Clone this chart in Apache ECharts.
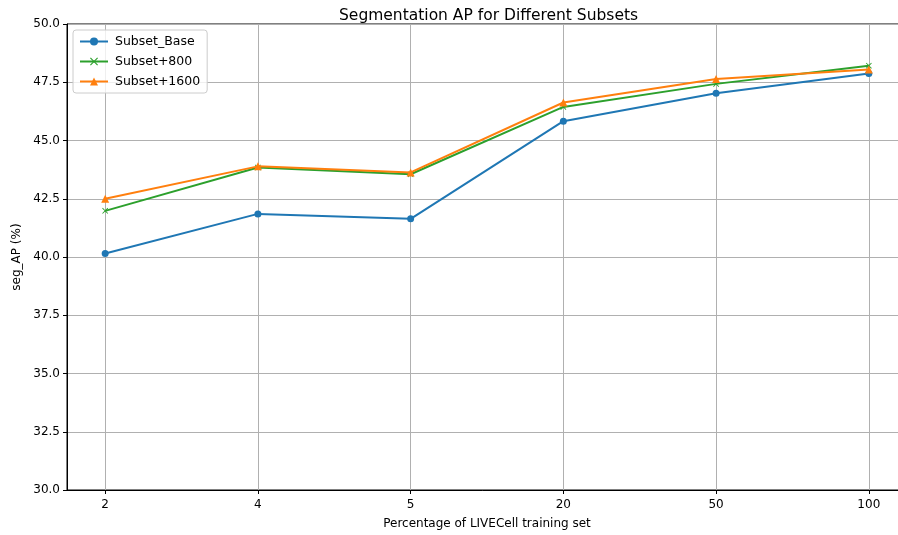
<!DOCTYPE html>
<html>
<head>
<meta charset="utf-8">
<script src="https://cdn.jsdelivr.net/npm/echarts@6/dist/echarts.min.js"></script>
<style>
  html, body { margin: 0; padding: 0; background: #fff; }
  #main { width: 898px; height: 535px; }
</style>
</head>
<body>
<div id="main"></div>
<script>
// x positions are category indices, labels are training-set percentages
var categories = ['2', '4', '5', '20', '50', '100'];
var subsetBase = [40.15, 41.85, 41.64, 45.83, 47.03, 47.88];
var subset800 = [41.98, 43.84, 43.55, 46.44, 47.43, 48.21];
var subset1600 = [42.50, 43.89, 43.63, 46.63, 47.64, 48.05];

var xMark = 'path://M0,1L1,0L5,4L9,0L10,1L6,5L10,9L9,10L5,6L1,10L0,9L4,5Z';
var font = 'DejaVu Sans';

function toPoints(vals) {
    return vals.map(function (v, i) { return [i, v]; });
}

var chart = echarts.init(document.getElementById('main'));

var option = {
    animation: false,
    backgroundColor: '#fff',
    title: {
        text: 'Segmentation AP for Different Subsets',
        left: 334,
        top: 3,
        textStyle: { fontFamily: font, fontSize: 15.5, fontWeight: 'normal', color: '#000' }
    },
    legend: {
        orient: 'vertical',
        left: 73,
        top: 30,
        padding: [5, 7, 5, 6],
        itemGap: 7,
        itemWidth: 28,
        itemHeight: 10,
        backgroundColor: 'rgba(255,255,255,0.8)',
        borderColor: '#cccccc',
        borderWidth: 1,
        borderRadius: 3,
        textStyle: { fontFamily: font, fontSize: 12.5, color: '#000', padding: [0, 0, 0, 2] },
        data: ['Subset_Base', 'Subset+800', 'Subset+1600']
    },
    grid: {
        left: 67,
        top: 24,
        width: 840,
        height: 466,
        outerBoundsMode: 'none',
        containLabel: false,
        show: true,
        borderColor: '#000',
        borderWidth: 1
    },
    xAxis: {
        type: 'value',
        min: -0.25,
        max: 5.25,
        name: 'Percentage of LIVECell training set',
        nameLocation: 'middle',
        nameGap: 28,
        nameTextStyle: { fontFamily: font, fontSize: 12, color: '#000' },
        axisLine: { onZero: false, lineStyle: { color: '#000', width: 1 } },
        axisTick: {
            length: 4,
            lineStyle: { color: '#000' },
            customValues: [0, 1, 2, 3, 4, 5]
        },
        axisLabel: {
            fontFamily: font,
            fontSize: 12,
            color: '#000',
            margin: 9,
            customValues: [0, 1, 2, 3, 4, 5],
            formatter: function (v) { return categories[Math.round(v)]; }
        },
        splitLine: { show: true, lineStyle: { color: '#b0b0b0', width: 1 } }
    },
    yAxis: {
        type: 'value',
        min: 30,
        max: 50,
        interval: 2.5,
        name: 'seg_AP (%)',
        nameLocation: 'middle',
        nameGap: 43,
        nameTextStyle: { fontFamily: font, fontSize: 12, color: '#000' },
        axisLine: { show: true, onZero: false, lineStyle: { color: '#000', width: 1 } },
        axisTick: { show: true, length: 4, lineStyle: { color: '#000' } },
        axisLabel: {
            fontFamily: font,
            fontSize: 12,
            color: '#000',
            margin: 7,
            formatter: function (v) { return v.toFixed(1); }
        },
        splitLine: { show: true, lineStyle: { color: '#b0b0b0', width: 1 } }
    },
    series: [
        {
            name: 'Subset_Base',
            type: 'line',
            data: toPoints(subsetBase),
            symbol: 'circle',
            symbolSize: 7,
            color: '#1f77b4',
            lineStyle: { width: 2 },
            z: 3
        },
        {
            name: 'Subset+800',
            type: 'line',
            data: toPoints(subset800),
            symbol: xMark,
            symbolSize: 6,
            color: '#2ca02c',
            lineStyle: { width: 2 },
            z: 4
        },
        {
            name: 'Subset+1600',
            type: 'line',
            data: toPoints(subset1600),
            symbol: 'triangle',
            symbolSize: 8,
            color: '#ff7f0e',
            lineStyle: { width: 2 },
            z: 5
        }
    ]
};

chart.setOption(option);
</script>
</body>
</html>
